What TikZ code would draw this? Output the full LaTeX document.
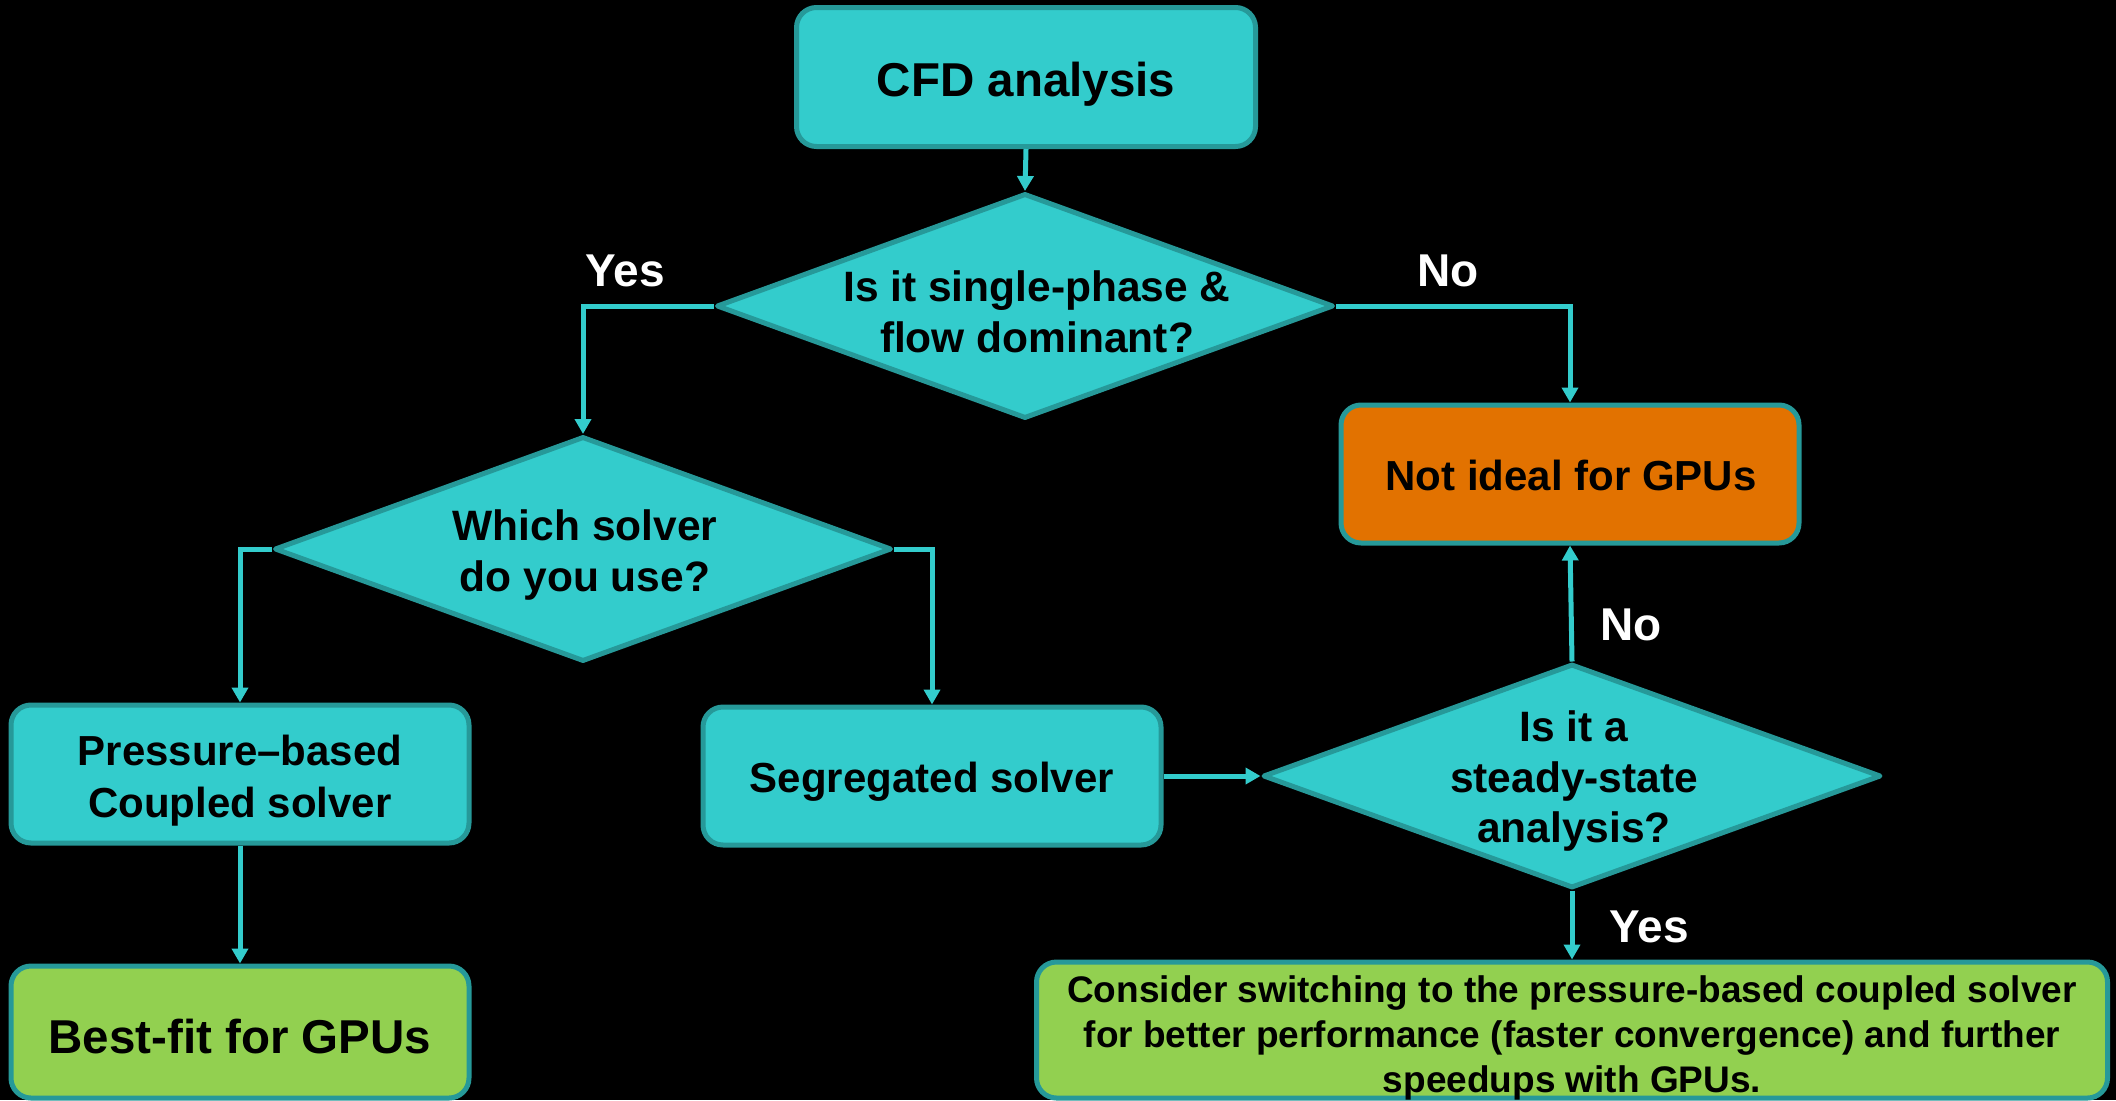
\documentclass[tikz,border=0pt]{standalone}
\usepackage{fontspec}
\setmainfont{Liberation Sans}
\usetikzlibrary{shapes.geometric,arrows.meta}

\definecolor{tealfill}{RGB}{51,204,204}
\definecolor{tealedge}{RGB}{38,153,153}
\definecolor{orangefill}{RGB}{226,114,0}
\definecolor{greenfill}{RGB}{146,208,80}

\tikzset{
  box/.style={rectangle, rounded corners=20pt, draw=tealedge, line width=5pt,
    fill=tealfill, minimum width=458pt, minimum height=138pt, inner sep=0pt},
  btext/.style={align=center, inner sep=0pt, text=black,
    font=\bfseries\fontsize{42}{52}\selectfont},
  dia/.style={diamond, draw=tealedge, line width=5pt, line join=round,
    fill=tealfill, minimum width=617pt, minimum height=225pt, inner sep=0pt},
  qtext/.style={align=center, inner sep=0pt, text=black,
    font=\bfseries\fontsize{42.5}{50.5}\selectfont},
  conn/.style={draw=tealfill, line width=5pt,
    -{Triangle[length=15pt,width=16pt]}},
  lbl/.style={text=white, inner sep=0pt, font=\bfseries\fontsize{46}{50}\selectfont},
}

\begin{document}
\begin{tikzpicture}[x=1pt, y=-1pt]
  % page background
  \fill[black] (0,0) rectangle (2116,1100);
  \useasboundingbox (0,0) rectangle (2116,1100);

  % process boxes
  \node[box, minimum width=459pt, minimum height=139pt] (cfd) at (1026,77) {};
  \node[box, fill=orangefill] (notideal) at (1570,474) {};
  \node[box] (pressure) at (240,774) {};
  \node[box] (seg) at (932,776) {};
  \node[box, fill=greenfill, minimum height=132pt] (bestfit) at (240,1032) {};
  \node[box, fill=greenfill, minimum width=1071pt, minimum height=136pt]
    (consider) at (1572,1030) {};

  % box texts
  \node[btext, font=\bfseries\fontsize{47.5}{56}\selectfont] (cfdt) at (1026,84) {CFD analysis};
  \node[btext] (notidealt) at (1571,475) {Not ideal for GPUs};
  \node[btext] (pressuret) at (240,781) {Pressure–based\\Coupled solver};
  \node[btext] (segt) at (932,782) {Segregated solver};
  \node[btext, font=\bfseries\fontsize{47.5}{56}\selectfont] (bestfitt) at (240,1037) {Best-fit for GPUs};
  \node[btext, font=\bfseries\fontsize{37}{45}\selectfont] (considert) at (1572,1038)
    {Consider switching to the pressure-based coupled solver\\
     for better performance (faster convergence) and further\\
     speedups with GPUs.};

  % decisions
  \node[dia] (d1) at (1025,306) {};
  \node[qtext] (d1t) at (1037,312) {Is it single-phase \&\\flow dominant?};
  \node[dia] (d2) at (583,549) {};
  \node[qtext] (d2t) at (585,555) {Which solver\\do you use?};
  \node[dia, minimum width=618pt, minimum height=224pt] (d3) at (1572,776) {};
  \node[qtext] (d3t) at (1574,781) {Is it a\\steady-state\\analysis?};

  % connectors
  \draw[conn] (cfd.south) -- (d1.north);
  \draw[conn] (d1.west) -| (d2.north);
  \draw[conn] (d1.east) -| (notideal.north);
  \draw[conn] (d2.west) -| (pressure.north);
  \draw[conn] (d2.east) -| (seg.north);
  \draw[conn] (pressure.south) -- (bestfit.north);
  \draw[conn] (seg.east) -- (d3.west);
  \draw[conn] (d3.north) -- (notideal.south);
  \draw[conn] (d3.south) -- (consider.north);

  % branch labels
  \node[lbl] (yes1) at (625,271) {Yes};
  \node[lbl] (no1) at (1448,271) {No};
  \node[lbl] (no2) at (1631,625) {No};
  \node[lbl] (yes2) at (1649,927) {Yes};
\end{tikzpicture}
\end{document}
